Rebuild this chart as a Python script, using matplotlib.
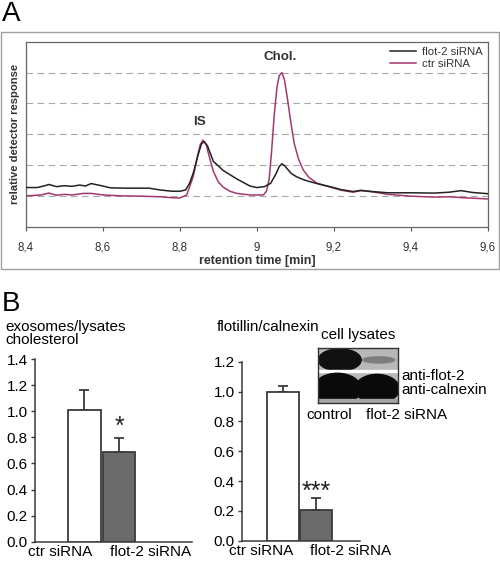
import numpy as np
import matplotlib.pyplot as plt
from matplotlib.patches import Rectangle, Ellipse

plt.rcParams['font.family'] = ['Liberation Sans', 'DejaVu Sans']

# ---- panel A: chromatogram (retention time [min], relative response)
flot2_t = [8.40, 8.43, 8.45, 8.46, 8.48, 8.50, 8.52, 8.54, 8.555, 8.57, 8.60, 8.62,
           8.66, 8.72, 8.75, 8.78, 8.80, 8.815, 8.825, 8.835, 8.848, 8.856, 8.863, 8.872,
           8.887, 8.913, 8.948, 8.982, 9.00, 9.02, 9.036, 9.05, 9.058, 9.065, 9.072, 9.08,
           9.09, 9.103, 9.12, 9.138, 9.165, 9.19, 9.22, 9.25, 9.27, 9.30, 9.34, 9.40,
           9.46, 9.50, 9.53, 9.56, 9.60]
flot2_y = [1.27, 1.27, 1.33, 1.37, 1.30, 1.33, 1.31, 1.35, 1.32, 1.40, 1.32, 1.26,
           1.25, 1.25, 1.19, 1.15, 1.15, 1.19, 1.40, 1.74, 2.35, 2.68, 2.76, 2.62,
           2.12, 1.82, 1.55, 1.32, 1.27, 1.30, 1.41, 1.72, 1.95, 2.04, 1.98, 1.86,
           1.72, 1.62, 1.53, 1.46, 1.37, 1.30, 1.20, 1.14, 1.18, 1.14, 1.10, 1.10,
           1.09, 1.12, 1.17, 1.11, 1.07]
ctr_t = [8.40, 8.44, 8.46, 8.48, 8.50, 8.52, 8.55, 8.57, 8.60, 8.65, 8.70, 8.75,
         8.78, 8.80, 8.818, 8.835, 8.846, 8.853, 8.86, 8.868, 8.877, 8.887, 8.9, 8.913,
         8.93, 8.948, 8.982, 9.017, 9.025, 9.032, 9.038, 9.045, 9.052, 9.058, 9.065,
         9.072, 9.08, 9.088, 9.097, 9.108, 9.12, 9.135, 9.155, 9.18, 9.20, 9.22,
         9.25, 9.27, 9.30, 9.34, 9.40, 9.46, 9.50, 9.55, 9.60]
ctr_y = [1.00, 1.03, 1.09, 1.02, 1.05, 1.03, 1.08, 1.08, 1.03, 1.00, 0.99, 0.97,
         0.94, 0.93, 1.03, 1.63, 2.30, 2.66, 2.81, 2.68, 2.25, 1.80, 1.45, 1.28,
         1.15, 1.08, 1.03, 1.03, 1.15, 1.55, 2.40, 3.60, 4.50, 4.90, 5.00,
         4.75, 4.10, 3.40, 2.70, 2.20, 1.85, 1.60, 1.42, 1.32, 1.25, 1.18,
         1.12, 1.17, 1.13, 1.05, 0.99, 0.96, 0.97, 0.93, 0.90]
xticks_a = [8.4, 8.6, 8.8, 9.0, 9.2, 9.4, 9.6]
xtick_labels_a = ['8,4', '8,6', '8,8', '9', '9,2', '9,4', '9,6']

# ---- panel B: bar charts
groups = ['ctr siRNA', 'flot-2 siRNA']
chol_mean = [1.01, 0.685]
chol_err = [0.155, 0.11]
flot_mean = [1.0, 0.205]
flot_err = [0.04, 0.08]

magenta = '#a3386f'
fig = plt.figure(figsize=(5, 5.62), dpi=100)

# outer frame of panel A
fig.patches.append(Rectangle((0.002, 0.5214), 0.996, 0.4217, transform=fig.transFigure,
                             fill=False, edgecolor='#a0a0a0', lw=1.0))
fig.text(0.004, 0.998, 'A', fontsize=20, va='top', ha='left')
fig.text(0.004, 0.482, 'B', fontsize=20, va='top', ha='left')

ax = fig.add_axes([0.0514, 0.5966, 0.9246, 0.3292])
ax.plot(flot2_t, flot2_y, color='#222222', lw=1.1, label='flot-2 siRNA', zorder=3)
ax.plot(ctr_t, ctr_y, color=magenta, lw=1.1, label='ctr siRNA', zorder=2)
for g in [1, 2, 3, 4, 5]:
    ax.axhline(g, color='#a8a8a8', lw=0.8, ls=(0, (6, 4)), zorder=1)
ax.set_xlim(8.4, 9.6)
ax.set_ylim(0, 6)
ax.set_yticks([])
ax.set_xticks(xticks_a)
ax.set_xticklabels(xtick_labels_a, fontsize=8.3, color='#333333')
ax.tick_params(axis='x', length=3, color='#555555', pad=8)
for s in ax.spines.values():
    s.set_color('#666666')
    s.set_linewidth(0.9)
ax.set_xlabel('retention time [min]', fontsize=9, fontweight='bold', color='#333333', labelpad=1)
ax.set_ylabel('relative detector response', fontsize=8.1, fontweight='bold', color='#333333',
              labelpad=4)
ax.text(8.85, 3.38, 'IS', fontsize=9.6, fontweight='bold', color='#333333', ha='center', va='center')
ax.text(9.06, 5.52, 'Chol.', fontsize=9.6, fontweight='bold', color='#333333', ha='center', va='center')
leg = ax.legend(loc='upper right', frameon=False, fontsize=8.2, handlelength=2.3,
                borderaxespad=0.2, labelspacing=0.1, handletextpad=0.5, borderpad=0.3)
for t in leg.get_texts():
    t.set_color('#333333')


def bar_panel(rect, means, errs, ylim, yticks, bar_x, label_x, stars, star_y):
    bx = fig.add_axes(rect)
    bx.bar(bar_x, means, width=bar_x[1] - bar_x[0] - 0.012,
           color=['white', '#6b6b6b'], edgecolor='#3a3a3a', lw=1.3, zorder=3)
    bx.errorbar(bar_x, means, yerr=[[0, 0], errs], fmt='none', ecolor='#3a3a3a',
                elinewidth=1.3, capsize=3.5, capthick=1.3, zorder=2)
    bx.set_xlim(0, 1)
    bx.set_ylim(*ylim)
    bx.set_yticks(yticks)
    bx.set_yticklabels(['%.1f' % v for v in yticks], fontsize=11)
    bx.set_xticks(label_x)
    bx.set_xticklabels(groups, fontsize=11)
    bx.tick_params(axis='x', length=0, pad=2.5)
    bx.tick_params(axis='y', length=3, width=1, color='#3a3a3a', pad=2)
    for s in ['top', 'right']:
        bx.spines[s].set_visible(False)
    for s in ['left', 'bottom']:
        bx.spines[s].set_color('#3a3a3a')
        bx.spines[s].set_linewidth(1.1)
    bx.text(bar_x[1], star_y, stars, fontsize=18, ha='center', va='center', color='#222222')
    return bx


bar_panel([0.0694, 0.0361, 0.314, 0.3251], chol_mean, chol_err, (0, 1.4),
          [0.0, 0.2, 0.4, 0.6, 0.8, 1.0, 1.2, 1.4],
          [0.317, 0.537], [0.161, 0.735], '*', 0.88)
bar_panel([0.4834, 0.0379, 0.2366, 0.3185], flot_mean, flot_err, (0, 1.2),
          [0.0, 0.2, 0.4, 0.6, 0.8, 1.0, 1.2],
          [0.349, 0.631], [0.168, 0.923], '***', 0.33)

fig.text(0.01, 0.407, 'exosomes/lysates\ncholesterol', fontsize=11, va='center', ha='left',
         linespacing=0.95)
fig.text(0.434, 0.418, 'flotillin/calnexin', fontsize=11, va='center', ha='left')

# western blot inset (cell lysates)
wb = fig.add_axes([0.6366, 0.2824, 0.1588, 0.0989])
wb.set_xlim(0, 1)
wb.set_ylim(0, 1)
wb.set_facecolor('#b8b8b8')
wb.set_xticks([])
wb.set_yticks([])
for s in wb.spines.values():
    s.set_color('#333333')
    s.set_linewidth(1.0)
wb.add_patch(Ellipse((0.27, 0.78), 0.54, 0.40, color='#111111'))
wb.add_patch(Ellipse((0.76, 0.78), 0.40, 0.11, color='#7d7d7d'))
wb.add_patch(Rectangle((0, 0.56), 1, 0.045, color='white'))
wb.add_patch(Ellipse((0.24, 0.26), 0.60, 0.56, color='#0a0a0a'))
wb.add_patch(Ellipse((0.74, 0.26), 0.56, 0.52, color='#0a0a0a'))
wb.add_patch(Rectangle((0, 0), 1, 0.07, color='#a5a5a5'))

fig.text(0.716, 0.391, 'cell lysates', fontsize=11, ha='center', va='bottom')
fig.text(0.802, 0.331, 'anti-flot-2', fontsize=11, ha='left', va='center')
fig.text(0.802, 0.306, 'anti-calnexin', fontsize=11, ha='left', va='center')
fig.text(0.613, 0.262, 'control', fontsize=11, ha='left', va='center')
fig.text(0.731, 0.262, 'flot-2 siRNA', fontsize=11, ha='left', va='center')

fig.savefig('out.png', dpi=100)
